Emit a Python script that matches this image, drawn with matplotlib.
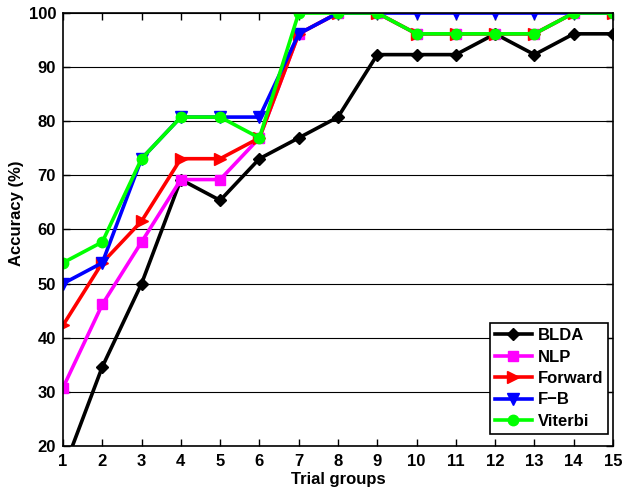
import matplotlib
matplotlib.use("Agg")
import matplotlib.pyplot as plt

plt.rcParams['font.family'] = ['Liberation Sans', 'DejaVu Sans']
plt.rcParams['font.weight'] = 'bold'

x = list(range(1, 16))
blda = [15.38, 34.62, 50.0, 69.23, 65.38, 73.08, 76.92, 80.77, 92.31, 92.31, 92.31, 96.15, 92.31, 96.15, 96.15]
nlp = [30.77, 46.15, 57.69, 69.23, 69.23, 76.92, 96.15, 100, 100, 96.15, 96.15, 96.15, 96.15, 100, 100]
forward = [42.31, 53.85, 61.54, 73.08, 73.08, 76.92, 96.15, 100, 100, 96.15, 96.15, 96.15, 96.15, 100, 100]
fb = [50.0, 53.85, 73.08, 80.77, 80.77, 80.77, 96.15, 100, 100, 100, 100, 100, 100, 100, 100]
viterbi = [53.85, 57.69, 73.08, 80.77, 80.77, 76.92, 100, 100, 100, 96.15, 96.15, 96.15, 96.15, 100, 100]
names = ['BLDA', 'NLP', 'Forward', 'F\u2212B', 'Viterbi']

fig = plt.figure(figsize=(6.25, 4.91), dpi=100)
L, R, T, B = 63, 613, 13, 446
ax = fig.add_axes([L/625, (491-B)/491, (R-L)/625, (B-T)/491])

lw = 2.6
ax.plot(x, blda, color='black', marker='D', markersize=6, lw=lw, label=names[0])
ax.plot(x, nlp, color='#ff00ff', marker='s', markersize=6.5, lw=lw, label=names[1])
ax.plot(x, forward, color='#ff0000', marker='>', markersize=9, lw=lw, label=names[2])
ax.plot(x, fb, color='#0000ff', marker='v', markersize=9, lw=lw, label=names[3])
ax.plot(x, viterbi, color='#00ff00', marker='o', markersize=7.5, lw=lw, label=names[4])

ax.set_xlim(1, 15)
ax.set_ylim(20, 100)
ax.set_xticks(x)
ax.set_yticks(range(20, 101, 10))
ax.yaxis.grid(True, color='black', lw=0.8, ls='-')
ax.set_axisbelow(True)
ax.tick_params(direction='in', top=True, right=True, labelsize=12, length=5, width=1)
ax.tick_params(axis='x', pad=6)
ax.tick_params(axis='y', pad=5)
for s in ax.spines.values():
    s.set_linewidth(1.2)
ax.set_xlabel('Trial groups', fontsize=12, fontweight='bold', labelpad=2)
ax.set_ylabel('Accuracy (%)', fontsize=12, fontweight='bold')
ax.yaxis.set_label_coords(-0.07, 0.538)

ax_w, ax_h = R - L, B - T
leg = ax.legend(loc='lower right', bbox_to_anchor=((608 - L) / ax_w, (B - 434) / ax_h),
                fontsize=12, fancybox=False, edgecolor='black',
                framealpha=1, handlelength=2.2, borderaxespad=0, labelspacing=0.39,
                handletextpad=0.35, borderpad=0.3)
leg.get_frame().set_linewidth(1.2)

fig.savefig('out.png', dpi=100)
